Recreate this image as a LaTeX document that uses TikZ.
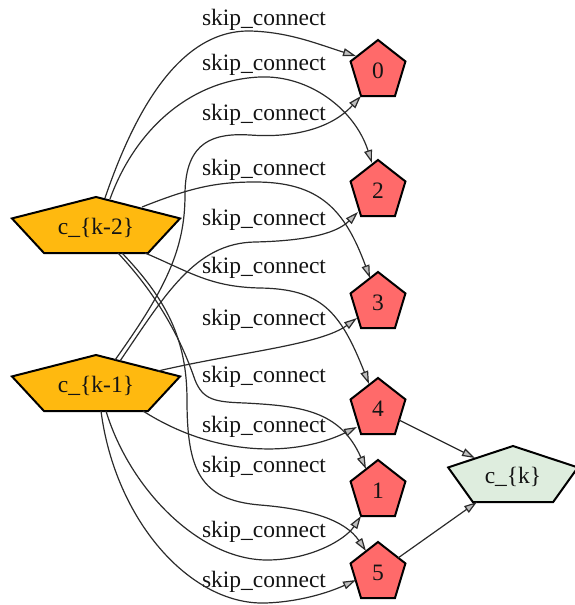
\documentclass[tikz,border=0pt]{standalone}
\usepackage{fontspec}
\setmainfont{Liberation Serif}
\usetikzlibrary{arrows.meta,backgrounds}
\definecolor{korange}{HTML}{FFB90F}
\definecolor{kred}{HTML}{FF6A6A}
\definecolor{kgreen}{HTML}{DEEDDE}
\definecolor{edgecol}{HTML}{2B2B2B}
\newcommand\pentshape[4]{%
 \path[draw=black, line width=2pt, line join=miter, fill=#4]
 ([shift={(0,-#2)}]#1.center)
 -- ([shift={(-0.951*#2*#3,-0.309*#2)}]#1.center)
 -- ([shift={(-0.588*#2*#3,0.809*#2)}]#1.center)
 -- ([shift={(0.588*#2*#3,0.809*#2)}]#1.center)
 -- ([shift={(0.951*#2*#3,-0.309*#2)}]#1.center)
 -- cycle;}
\begin{document}
\begin{tikzpicture}[x=1pt,y=-1pt,
  txt/.style={font=\fontsize{23.5}{28}\selectfont, text=black!92, inner sep=0pt},
  elab/.style={txt, anchor=base},
  conn/.style={draw=edgecol, line width=1.2pt, -{Triangle[length=13pt,width=8pt,fill=gray!50]}}]
\useasboundingbox (0,0) rectangle (574,605);
% nodes
\node[txt] (k2) at (96,228) {c\_\{k-2\}};
\node[txt] (k1) at (96,386) {c\_\{k-1\}};
\node[txt] (n0) at (378,71) {0};
\node[txt] (n2) at (378,191) {2};
\node[txt] (n3) at (378,303) {3};
\node[txt] (n4) at (378,409) {4};
\node[txt] (n1) at (378,491) {1};
\node[txt] (n5) at (378,573) {5};
\node[txt] (ck) at (513,477) {c\_\{k\}};
\begin{scope}[on background layer]
\pentshape{k2}{31}{2.85}{korange}
\pentshape{k1}{31}{2.85}{korange}
\pentshape{n0}{31}{0.93}{kred}
\pentshape{n2}{31}{0.93}{kred}
\pentshape{n3}{31}{0.93}{kred}
\pentshape{n4}{31}{0.93}{kred}
\pentshape{n1}{31}{0.93}{kred}
\pentshape{n5}{31}{0.93}{kred}
\pentshape{ck}{31}{2.2}{kgreen}
\end{scope}
% edge labels
\node[elab] (l1) at (264,25) {skip\_connect};
\node[elab] (l2) at (264,70) {skip\_connect};
\node[elab] (l3) at (264,120) {skip\_connect};
\node[elab] (l4) at (264,175) {skip\_connect};
\node[elab] (l5) at (264,225) {skip\_connect};
\node[elab] (l6) at (264,273) {skip\_connect};
\node[elab] (l7) at (264,325) {skip\_connect};
\node[elab] (l8) at (264,382) {skip\_connect};
\node[elab] (l9) at (264,432) {skip\_connect};
\node[elab] (l10) at (264,472) {skip\_connect};
\node[elab] (l11) at (264,537) {skip\_connect};
\node[elab] (l12) at (264,587) {skip\_connect};
% edges
\draw[conn] ([shift={(9,-30)}]k2.center) .. controls (135,110) and (180,30) .. (250,31) .. controls (290,32) and (320,45) .. ([shift={(-22,-15)}]n0.center);
\draw[conn] ([shift={(14,-29)}]k2.center) .. controls (135,130) and (190,80) .. (260,77) .. controls (310,75) and (355,110) .. ([shift={(-6,-28)}]n2.center);
\draw[conn] ([shift={(19,-26)}]k1.center) .. controls (165,290) and (185,250) .. (185,195) .. controls (185,140) and (215,133) .. (250,135) .. controls (290,138) and (330,130) .. ([shift={(-17,25)}]n0.center);
\draw[conn] ([shift={(24,-25)}]k1.center) .. controls (165,295) and (195,243) .. (255,242) .. controls (300,241) and (335,235) .. ([shift={(-20,21)}]n2.center);
\draw[conn] ([shift={(46,-21)}]k2.center) .. controls (190,188) and (215,182) .. (255,182) .. controls (320,182) and (345,210) .. ([shift={(-8,-25)}]n3.center);
\draw[conn] ([shift={(49,25)}]k2.center) .. controls (190,272) and (210,287) .. (260,288) .. controls (320,289) and (340,310) .. ([shift={(-9,-25)}]n4.center);
\draw[conn] ([shift={(62,-15)}]k1.center) .. controls (240,352) and (320,345) .. ([shift={(-21,15)}]n3.center);
\draw[conn] ([shift={(22,25)}]k2.center) .. controls (162,300) and (183,345) .. (195,380) .. controls (203,400) and (215,402) .. (245,403) .. controls (300,406) and (340,410) .. ([shift={(-12,-22)}]n1.center);
\draw[conn] ([shift={(47,25)}]k1.center) .. controls (220,460) and (300,455) .. ([shift={(-21,18)}]n4.center);
\draw[conn] ([shift={(26,25)}]k2.center) .. controls (167,300) and (187,340) .. (187,400) .. controls (187,470) and (200,500) .. (260,505) .. controls (310,509) and (345,520) .. ([shift={(-12,-22)}]n5.center);
\draw[conn] ([shift={(10,25)}]k1.center) .. controls (130,490) and (200,560) .. (267,560) .. controls (310,560) and (345,540) .. ([shift={(-17,25)}]n1.center);
\draw[conn] ([shift={(5,25)}]k1.center) .. controls (115,520) and (190,605) .. (265,603) .. controls (300,602) and (330,592) .. ([shift={(-22,7)}]n5.center);
\draw[conn] ([shift={(21,11)}]n4.center) -- ([shift={(-38,-19)}]ck.center);
\draw[conn] ([shift={(20,-15)}]n5.center) -- ([shift={(-36,25)}]ck.center);
\end{tikzpicture}
\end{document}
